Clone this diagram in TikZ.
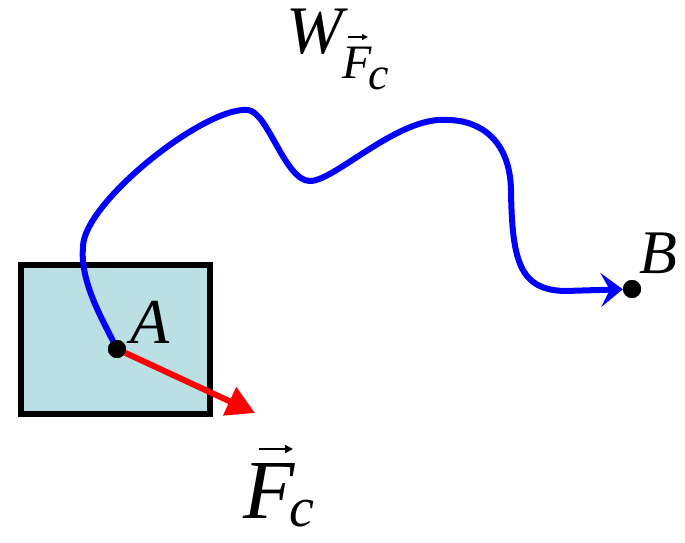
\documentclass[tikz,border=0pt]{standalone}
\usepackage{fontspec}
\setmainfont{Liberation Serif}
\usetikzlibrary{arrows.meta}
\definecolor{boxfill}{RGB}{187,224,227}
\begin{document}
\begin{tikzpicture}[x=1pt,y=-1pt,
  lbl/.style={inner sep=0pt,anchor=base,font=\itshape},
  dotnode/.style={circle,fill=black,inner sep=0pt,minimum size=18pt},
  path/.style={draw={rgb,255:red,0;green,0;blue,255},line width=6pt,line cap=round,
    -{Stealth[length=22pt,width=34pt,inset=9pt]}},
  force/.style={draw={rgb,255:red,255;green,0;blue,0},line width=6pt,
    -{Triangle[length=28pt,width=30pt]}},
  accent/.style={line width=2.2pt,-{Triangle[length=8pt,width=8pt]}}]
\useasboundingbox (0,0) rectangle (685,542);
% body
\draw[line width=6pt,fill=boxfill] (21,265) rectangle (210,414);
% points
\node[dotnode] (A) at (117,349) {};
\node[dotnode] (B) at (632,289) {};
\coordinate (Ftip) at (255,413);
% path from A to B
\draw[path] (A) .. controls (100,315) and (80,280) .. (83,247)
  .. controls (83,203) and (205,106) .. (248,110)
  .. controls (268,112) and (285,181) .. (310,181)
  .. controls (335,181) and (398,116) .. (447,120)
  .. controls (480,120) and (510,140) .. (511,190)
  .. controls (512,262) and (520,290) .. (565,291)
  -- (B);
% force
\draw[force] (A) -- (Ftip);
\node[dotnode] at (A) {};
\node[dotnode] at (B) {};
% labels
\node[lbl,font=\itshape\fontsize{64}{64}\selectfont] (Alab) at (150,343) {A};
\node[lbl,font=\itshape\fontsize{62}{62}\selectfont] (Blab) at (658,273) {B};
% W_{F_c}
\node[lbl,anchor=base west,font=\itshape\fontsize{68}{68}\selectfont] (W) at (286,53)
  {W\raisebox{-25pt}{\fontsize{48}{48}\selectfont F\kern-4pt\raisebox{-11pt}{\fontsize{46}{46}\selectfont c}}};
\coordinate (wa1) at (348,37);
\coordinate (wa2) at (368,37);
\draw[line width=1.5pt,-{Triangle[length=6pt,width=6pt]}] (wa1) -- (wa2);
% F_c
\node[lbl,anchor=base west,font=\itshape\fontsize{84}{84}\selectfont] (F) at (243,518)
  {F\kern-5pt\raisebox{-8pt}{\fontsize{56}{56}\selectfont c}};
\coordinate (fa1) at (259,449);
\coordinate (fa2) at (293,449);
\draw[accent] (fa1) -- (fa2);
\end{tikzpicture}
\end{document}
